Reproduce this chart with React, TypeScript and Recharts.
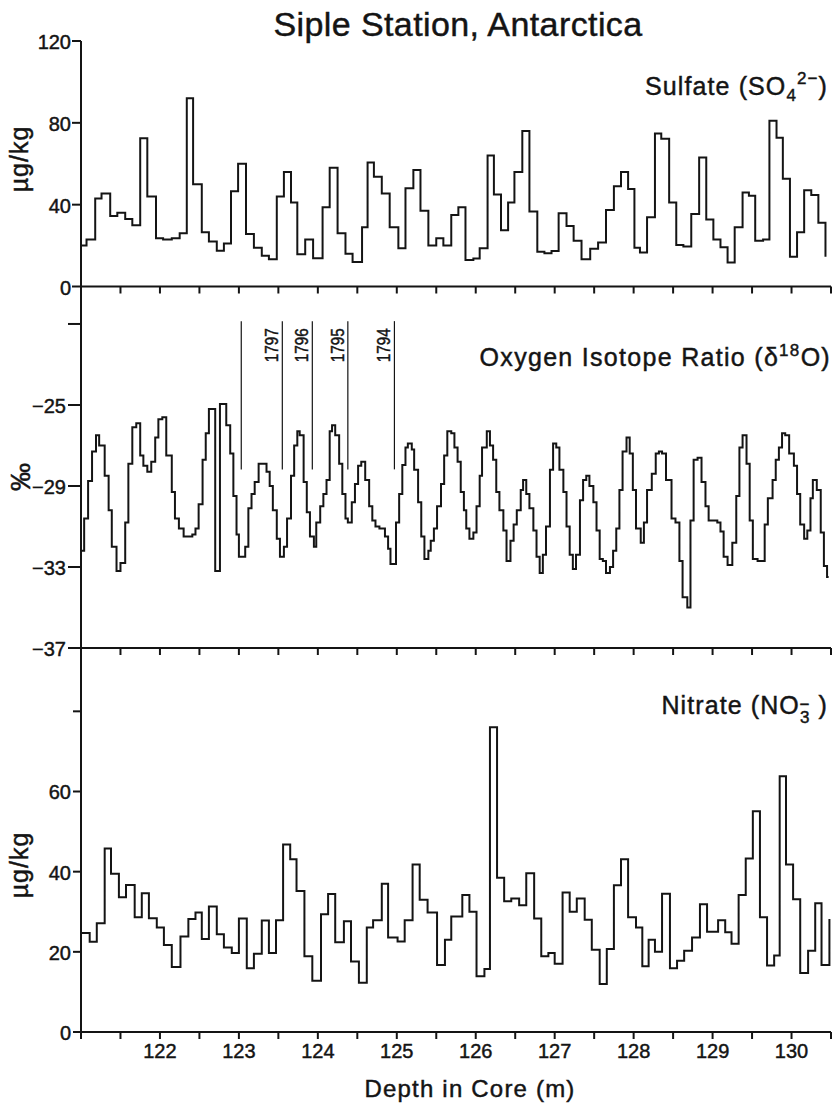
import React from 'react';
import { LineChart, Line, XAxis, YAxis, ReferenceLine } from 'recharts';

const FONT = '"Liberation Sans", Arial, Helvetica, sans-serif';
const INK = '#141414';
const W = 836;

// depth (m) at which each sample step starts, and the measured value of that step
const sulfateDepth = [
  121.0, 121.07, 121.18, 121.26, 121.37, 121.46, 121.56, 121.65, 121.75, 121.84,
  121.95, 122.04, 122.15, 122.25, 122.34, 122.42, 122.53, 122.62, 122.72, 122.81,
  122.9, 122.99, 123.09, 123.19, 123.29, 123.38, 123.48, 123.57, 123.66, 123.74,
  123.84, 123.94, 124.06, 124.15, 124.25, 124.35, 124.44, 124.56, 124.63, 124.71,
  124.81, 124.91, 125.02, 125.11, 125.21, 125.3, 125.4, 125.5, 125.59, 125.69,
  125.78, 125.87, 125.97, 126.05, 126.15, 126.23, 126.32, 126.41, 126.49, 126.59,
  126.68, 126.78, 126.87, 126.96, 127.05, 127.15, 127.24, 127.34, 127.45, 127.55,
  127.65, 127.75, 127.84, 127.93, 128.01, 128.08, 128.17, 128.27, 128.35, 128.45,
  128.54, 128.63, 128.73, 128.83, 128.92, 129.01, 129.1, 129.19, 129.28, 129.38,
  129.46, 129.54, 129.64, 129.72, 129.81, 129.89, 129.98, 130.07, 130.16, 130.25,
  130.34, 130.43,
];
const sulfateValue = [
  20, 23, 43, 45.5, 34.5, 36, 33, 30, 72.5, 44,
  23.6, 23, 23.6, 26, 92, 50, 26.5, 22, 17.5, 21,
  46.5, 60, 25.7, 19, 15, 13.3, 44, 56, 41, 15.8,
  23, 13.8, 38.7, 58, 26, 16, 12, 29, 60.6, 53.7,
  45.5, 29, 18.7, 48, 57, 37, 20, 23.6, 20, 35,
  38.7, 13, 13.7, 18.7, 64, 45, 27.5, 41, 56, 76,
  36.6, 17, 16.3, 17.4, 35.8, 29.6, 22.4, 13.3, 18.4, 21.5,
  37.4, 49, 56, 47.6, 18.9, 16.6, 33.8, 74.8, 72.2, 41,
  20.3, 19.5, 35.4, 63, 32.8, 23, 19.2, 11.7, 29, 46,
  44.4, 22.4, 23, 81, 72.7, 52.7, 14.6, 26.5, 47, 44.7,
  31.2, 14.6,
];

const isotopeDepth = [
  121.0, 121.04, 121.09, 121.14, 121.19, 121.23, 121.3, 121.35, 121.39, 121.45,
  121.5, 121.56, 121.6, 121.65, 121.7, 121.75, 121.79, 121.84, 121.89, 121.94,
  121.98, 122.03, 122.08, 122.15, 122.19, 122.24, 122.3, 122.41, 122.45, 122.49,
  122.54, 122.58, 122.62, 122.7, 122.76, 122.84, 122.89, 122.93, 122.97, 123.0,
  123.08, 123.12, 123.16, 123.2, 123.25, 123.35, 123.39, 123.43, 123.48, 123.52,
  123.57, 123.61, 123.66, 123.7, 123.74, 123.77, 123.82, 123.86, 123.9, 123.95,
  123.98, 124.03, 124.07, 124.11, 124.15, 124.18, 124.22, 124.27, 124.31, 124.35,
  124.38, 124.43, 124.47, 124.51, 124.55, 124.6, 124.65, 124.69, 124.73, 124.78,
  124.85, 124.89, 124.92, 124.99, 125.03, 125.07, 125.11, 125.14, 125.19, 125.22,
  125.27, 125.31, 125.35, 125.4, 125.43, 125.47, 125.51, 125.56, 125.6, 125.64,
  125.69, 125.73, 125.77, 125.81, 125.85, 125.88, 125.92, 125.97, 126.01, 126.05,
  126.08, 126.14, 126.18, 126.22, 126.26, 126.3, 126.35, 126.39, 126.44, 126.48,
  126.52, 126.57, 126.6, 126.64, 126.68, 126.73, 126.77, 126.81, 126.85, 126.89,
  126.94, 126.98, 127.02, 127.06, 127.11, 127.15, 127.19, 127.23, 127.27, 127.32,
  127.36, 127.4, 127.44, 127.49, 127.53, 127.57, 127.61, 127.65, 127.7, 127.74,
  127.78, 127.82, 127.86, 127.91, 127.95, 127.99, 128.03, 128.09, 128.13, 128.17,
  128.23, 128.28, 128.32, 128.36, 128.41, 128.48, 128.53, 128.58, 128.62, 128.68,
  128.72, 128.76, 128.81, 128.86, 128.91, 128.95, 129.0, 129.06, 129.1, 129.14,
  129.19, 129.25, 129.3, 129.34, 129.38, 129.43, 129.47, 129.51, 129.57, 129.66,
  129.7, 129.76, 129.8, 129.84, 129.88, 129.92, 129.97, 130.03, 130.07, 130.11,
  130.16, 130.2, 130.24, 130.27, 130.32, 130.37, 130.41, 130.45, 130.47,
];
const isotopeValue = [
  -32.2, -30.6, -28.75, -27.3, -26.5, -27.0, -28.5, -30.2, -32.0, -33.2,
  -32.8, -30.8, -27.9, -26.1, -25.9, -27.5, -28.0, -28.3, -27.8, -26.6,
  -25.7, -25.6, -27.5, -29.3, -30.6, -31.1, -31.5, -31.4, -31.1, -29.9,
  -27.7, -26.4, -25.2, -33.2, -24.95, -26.0, -27.4, -29.5, -31.4, -32.5,
  -32.0, -30.1, -29.4, -28.8, -27.9, -28.3, -29.0, -30.2, -31.6, -32.5,
  -32.0, -30.6, -28.5, -27.0, -26.3, -26.5, -28.8, -30.3, -31.5, -32.0,
  -30.8, -30.0, -29.4, -28.7, -26.3, -26.0, -26.5, -27.9, -29.4, -30.6,
  -30.8, -29.8, -28.9, -28.0, -27.8, -28.7, -30.0, -30.7, -31.0, -31.1,
  -31.5, -32.1, -32.85, -30.8, -29.4, -27.96, -27.1, -26.9, -27.2, -28.2,
  -29.8, -31.5, -32.6, -32.2, -31.7, -31.1, -30.0, -28.9, -27.5, -26.3,
  -26.4, -27.1, -27.8, -29.3, -30.2, -31.1, -31.6, -31.3, -30.0, -28.5,
  -27.1, -26.3, -27.0, -27.7, -29.3, -30.2, -31.2, -32.7, -31.7, -30.9,
  -30.2, -29.2, -28.7, -29.4, -30.1, -31.2, -32.5, -33.3, -32.4, -31.0,
  -28.2, -26.9, -27.1, -28.2, -29.3, -31.0, -32.4, -33.1, -32.4, -29.7,
  -28.7, -28.5, -29.0, -29.8, -31.2, -32.6, -32.7, -33.3, -33.0, -32.2,
  -31.1, -29.2, -27.3, -26.6, -27.4, -29.2, -31.1, -31.8, -30.8, -29.2,
  -28.4, -27.4, -27.3, -27.4, -28.7, -30.6, -30.8, -32.7, -34.5, -35.0,
  -30.7, -27.7, -27.6, -28.8, -30.0, -30.7, -30.7, -30.8, -31.25, -32.5,
  -32.9, -31.8, -29.5, -27.1, -26.5, -27.9, -30.7, -32.6, -32.7, -30.9,
  -29.6, -28.7, -27.7, -27.1, -26.4, -26.5, -27.4, -28.0, -29.4, -30.9,
  -31.6, -31.2, -29.6, -28.7, -29.2, -31.3, -32.95, -33.5, -33.5,
];

const nitrateDepth = [
  121.0, 121.11, 121.2, 121.3, 121.38, 121.48, 121.57, 121.68, 121.77, 121.86,
  121.96, 122.05, 122.15, 122.26, 122.36, 122.45, 122.53, 122.62, 122.72, 122.81,
  122.91, 123.0, 123.1, 123.19, 123.29, 123.38, 123.47, 123.56, 123.65, 123.73,
  123.83, 123.93, 124.04, 124.13, 124.22, 124.33, 124.42, 124.52, 124.62, 124.7,
  124.81, 124.89, 125.01, 125.1, 125.2, 125.29, 125.39, 125.51, 125.61, 125.69,
  125.83, 125.92, 126.01, 126.11, 126.18, 126.27, 126.36, 126.45, 126.55, 126.64,
  126.74, 126.83, 126.92, 127.0, 127.1, 127.19, 127.28, 127.38, 127.47, 127.57,
  127.66, 127.75, 127.84, 127.93, 128.03, 128.11, 128.19, 128.27, 128.36, 128.46,
  128.55, 128.64, 128.74, 128.84, 128.93, 129.07, 129.16, 129.24, 129.33, 129.42,
  129.51, 129.6, 129.69, 129.78, 129.85, 129.93, 130.02, 130.11, 130.21, 130.3,
  130.38, 130.48,
];
const nitrateValue = [
  24.7, 22.5, 27.1, 45.8, 39.5, 33.6, 36.7, 28.6, 34.6, 28.4,
  26.1, 21.7, 16.2, 23.8, 28.2, 29.8, 23.2, 31.3, 24.4, 21.1,
  19.7, 28.3, 15.9, 19.5, 27.8, 19.7, 27.9, 46.8, 43.1, 35.2,
  18.9, 12.8, 29.4, 34.4, 22.4, 27.6, 17.6, 12.3, 26.1, 27.9,
  37.0, 23.6, 22.6, 27.9, 41.8, 33.0, 29.8, 16.7, 23.0, 28.8,
  34.2, 30.0, 13.9, 15.7, 76.0, 38.5, 32.6, 33.3, 31.6, 39.6,
  28.3, 18.9, 19.7, 17.0, 34.8, 30.0, 33.3, 28.0, 20.5, 12.0,
  20.7, 36.6, 43.1, 28.6, 26.1, 16.4, 23.0, 20.0, 34.5, 15.9,
  17.8, 20.3, 23.6, 31.9, 25.0, 27.9, 24.9, 22.0, 34.2, 43.3,
  55.1, 28.6, 16.6, 19.1, 63.8, 41.8, 33.1, 14.7, 20.3, 32.1,
  16.7, 28.2,
];

const depthTicks = [
  121, 121.5, 122, 122.5, 123, 123.5, 124, 124.5, 125, 125.5,
  126, 126.5, 127, 127.5, 128, 128.5, 129, 129.5, 130, 130.5,
];
const depthLabels = [122, 123, 124, 125, 126, 127, 128, 129, 130];

const sulfateTicks = [0, 40, 80, 120];
const isotopeTicks = [-37, -33, -29, -25, -21];
const isotopeLabels = [-37, -33, -29, -25];
const nitrateTicks = [0, 20, 40, 60, 80];
const nitrateLabels = [0, 20, 40, 60];

// annual layer boundaries marked on the isotope record
const yearDepth = [123.03, 123.55, 123.93, 124.38, 124.97];
const yearName = ['', '1797', '1796', '1795', '1794'];
const yearTop = -20.86;
const yearBottom = -28.18;

const toRows = (depth: number[], value: number[]) => depth.map((d, i) => ({ d, v: value[i] }));
const sulfate = toRows(sulfateDepth, sulfateValue);
const isotope = toRows(isotopeDepth, isotopeValue);
const nitrate = toRows(nitrateDepth, nitrateValue);

const axisStyle = { stroke: INK, strokeWidth: 2 };
// the scanned lettering is a heavier Helvetica, so give the text a thin outline
const textStyle = { fontFamily: FONT, fill: INK, stroke: INK, strokeWidth: 0.45 } as const;
const fmt = (v: number) => (v < 0 ? `\u2212${Math.abs(v)}` : `${v}`);

const DepthTick = (props: any) => {
  const { x, y, payload, labelled } = props;
  if (!labelled || !depthLabels.includes(payload.value)) return <g />;
  return (
    <text x={x} y={y} dy="0.71em" textAnchor="middle" fontSize={20} {...textStyle}>
      {payload.value}
    </text>
  );
};

const ValueTick = (props: any) => {
  const { x, y, payload, shown } = props;
  if (!shown.includes(payload.value)) return <g />;
  return (
    <text x={x} y={y} dy="0.4em" textAnchor="end" fontSize={20} {...textStyle}>
      {fmt(payload.value)}
    </text>
  );
};

const yearLabel = (name: string) => (props: any) => {
  const vb = props.viewBox || {};
  if (!name || vb.x == null) return null;
  return (
    <text
      transform={`translate(${vb.x - 4},${vb.y + 7}) rotate(-90)`}
      textAnchor="end"
      fontSize={19}
      textLength={34}
      lengthAdjust="spacingAndGlyphs"
      {...textStyle}
    >
      {name}
    </text>
  );
};

const Panel = ({ top, height, marginTop, axisHeight, data, domain, ticks, labels, tickSize, tickMargin, labelled }: any) => (
  <div style={{ position: 'absolute', left: 0, top }}>
    <LineChart width={W} height={height} data={data} margin={{ top: marginTop, right: 5, bottom: 0, left: 0 }}>
      <XAxis
        dataKey="d"
        type="number"
        domain={[121, 130.5]}
        ticks={depthTicks}
        interval={0}
        height={axisHeight}
        tickSize={7}
        tickMargin={5}
        axisLine={axisStyle}
        tickLine={axisStyle}
        tick={<DepthTick labelled={labelled} />}
      />
      <YAxis
        type="number"
        domain={domain}
        ticks={ticks}
        interval={0}
        width={81}
        tickSize={tickSize}
        tickMargin={tickMargin}
        axisLine={axisStyle}
        tickLine={axisStyle}
        tick={<ValueTick shown={labels} />}
        allowDataOverflow
      />
      {data === isotope &&
        yearDepth.map((d, i) => (
          <ReferenceLine
            key={d}
            segment={[
              { x: d, y: yearTop },
              { x: d, y: yearBottom },
            ]}
            stroke={INK}
            strokeWidth={1.2}
            label={yearLabel(yearName[i])}
          />
        ))}
      <Line
        type="stepAfter"
        dataKey="v"
        stroke={INK}
        strokeWidth={2}
        dot={false}
        activeDot={false}
        isAnimationActive={false}
      />
    </LineChart>
  </div>
);

export default function App() {
  return (
    <div style={{ position: 'absolute', left: 0, top: 0, width: W, height: 1103, background: '#fff' }}>
      <Panel
        top={0}
        height={300}
        marginTop={41}
        axisHeight={13.5}
        data={sulfate}
        domain={[0, 120]}
        ticks={sulfateTicks}
        labels={sulfateTicks}
        tickSize={9}
        tickMargin={1}
        labelled={false}
      />
      <Panel
        top={276}
        height={386}
        marginTop={10.5}
        axisHeight={14}
        data={isotope}
        domain={[-37, -19.15]}
        ticks={isotopeTicks}
        labels={isotopeLabels}
        tickSize={13}
        tickMargin={2}
        labelled={false}
      />
      <Panel
        top={638}
        height={465}
        marginTop={10}
        axisHeight={71}
        data={nitrate}
        domain={[0, 95.8]}
        ticks={nitrateTicks}
        labels={nitrateLabels}
        tickSize={8}
        tickMargin={2}
        labelled
      />
      <svg width={W} height={1103} style={{ position: 'absolute', left: 0, top: 0, pointerEvents: 'none' }}>
        <text x={458} y={36} textAnchor="middle" fontSize={34} letterSpacing={0.4} {...textStyle}>
          Siple Station, Antarctica
        </text>
        <text x={828} y={95} textAnchor="end" fontSize={25} letterSpacing={1.1} {...textStyle}>
          Sulfate (SO
          <tspan dy={6} fontSize={17}>4</tspan>
          <tspan dy={-17} fontSize={17}>2−</tspan>
          <tspan dy={11}>)</tspan>
        </text>
        <text x={831} y={366} textAnchor="end" fontSize={25} letterSpacing={1.3} {...textStyle}>
          Oxygen Isotope Ratio (δ
          <tspan dy={-10} fontSize={17}>18</tspan>
          <tspan dy={10}>O)</tspan>
        </text>
        <text x={828} y={714} textAnchor="end" fontSize={25} letterSpacing={1.1} {...textStyle}>
          Nitrate (NO
          <tspan dy={9} fontSize={17}>3</tspan>
          <tspan dx={-11} dy={-13} fontSize={17}>−</tspan>
          <tspan dy={4}> )</tspan>
        </text>
        <text transform="translate(28,159) rotate(-90)" textAnchor="middle" fontSize={25} letterSpacing={1} {...textStyle}>
          µg/kg
        </text>
        <text transform="translate(30,477) rotate(-90)" textAnchor="middle" fontSize={28} {...textStyle}>
          ‰
        </text>
        <text transform="translate(28,865) rotate(-90)" textAnchor="middle" fontSize={25} letterSpacing={1} {...textStyle}>
          µg/kg
        </text>
        <text x={470} y={1097} textAnchor="middle" fontSize={24} letterSpacing={1.2} {...textStyle}>
          Depth in Core (m)
        </text>
      </svg>
    </div>
  );
}
